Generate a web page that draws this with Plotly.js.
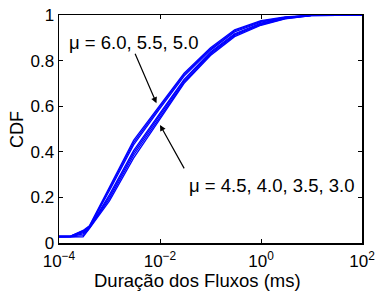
<!DOCTYPE html>
<html>
<head>
<meta charset="utf-8">
<script src="https://cdn.plot.ly/plotly-3.0.1.min.js"></script>
<style>html,body{margin:0;padding:0;background:#fff;}#chart{width:375px;height:293px;}</style>
</head>
<body>
<div id="chart"></div>
<script>
// Flow duration (ms) sample points
const durations = [1e-4, 1.7e-4, 3e-4, 4e-4, 1e-3, 3e-3, 1e-2, 3e-2, 0.1, 0.3, 1, 3, 10, 100];
// CDF series, one per mu value
const cdfMu60 = [0.030, 0.030, 0.055, 0.075, 0.245, 0.450, 0.605, 0.745, 0.856, 0.935, 0.975, 0.992, 0.999, 1];
const cdfMu55 = [0.030, 0.030, 0.053, 0.072, 0.238, 0.440, 0.598, 0.739, 0.851, 0.931, 0.972, 0.990, 0.999, 1];
const cdfMu50 = [0.029, 0.030, 0.050, 0.070, 0.230, 0.430, 0.590, 0.732, 0.846, 0.926, 0.969, 0.989, 0.998, 1];
const cdfMu45 = [0.028, 0.028, 0.045, 0.068, 0.212, 0.405, 0.570, 0.718, 0.838, 0.918, 0.964, 0.987, 0.998, 1];
const cdfMu40 = [0.027, 0.028, 0.040, 0.066, 0.204, 0.395, 0.562, 0.712, 0.833, 0.914, 0.961, 0.986, 0.998, 1];
const cdfMu35 = [0.027, 0.027, 0.032, 0.065, 0.195, 0.385, 0.552, 0.705, 0.828, 0.910, 0.958, 0.984, 0.997, 1];
const cdfMu30 = [0.026, 0.026, 0.027, 0.063, 0.185, 0.372, 0.542, 0.700, 0.822, 0.905, 0.955, 0.983, 0.997, 1];
const seriesList = [cdfMu60, cdfMu55, cdfMu50, cdfMu45, cdfMu40, cdfMu35, cdfMu30];
const xTickVals = [1e-4, 1e-2, 1, 100];
const xTickText = ['10<sup>−4</sup>', '10<sup>−2</sup>', '10<sup>0</sup>', '10<sup>2</sup>'];
const yTickVals = [0, 0.2, 0.4, 0.6, 0.8, 1];
const yTickText = ['0', '0.2', '0.4', '0.6', '0.8', '1'];
const labelUpper = 'μ = 6.0, 5.5, 5.0';
const labelLower = 'μ = 4.5, 4.0, 3.5, 3.0';
const xTitle = 'Duração dos Fluxos (ms)';
const yTitle = 'CDF';

const fontFam = 'Liberation Sans, Arial, Helvetica, sans-serif';
const FS = 17;
const FS_TEXT = 18.5;
const traces = seriesList.map(s => ({
  x: durations, y: s, type: 'scatter', mode: 'lines',
  line: {color: '#0000ff', width: 1.3}, showlegend: false, hoverinfo: 'skip'
}));

const axisCommon = {
  showline: true, linecolor: '#000', linewidth: 1.5, mirror: 'ticks',
  ticks: 'inside', ticklen: 4, tickwidth: 1, tickcolor: '#000',
  showgrid: false, zeroline: false, ticklabeloverflow: 'allow',
  tickfont: {family: fontFam, size: FS, color: '#000'}
};

const layout = {
  width: 375, height: 293,
  margin: {l: 59, r: 13, t: 15, b: 50},
  paper_bgcolor: '#fff', plot_bgcolor: '#fff',
  font: {family: fontFam, size: FS, color: '#000'},
  xaxis: Object.assign({}, axisCommon, {
    type: 'log', range: [-4, 2], tickmode: 'array', tickvals: xTickVals, ticktext: xTickText,
    ticklabelstandoff: 2
  }),
  yaxis: Object.assign({}, axisCommon, {
    range: [0, 1], tickmode: 'array', tickvals: yTickVals, ticktext: yTickText
  }),
  annotations: [
    {xref: 'x', yref: 'y', x: -2.07, y: 0.613, text: '', showarrow: true,
     arrowhead: 2, arrowsize: 1, arrowwidth: 1.2, arrowcolor: '#000', ax: -22, ay: -51},
    {xref: 'x', yref: 'y', x: -2.0, y: 0.518, text: '', showarrow: true,
     arrowhead: 2, arrowsize: 1, arrowwidth: 1.2, arrowcolor: '#000', ax: 25, ay: 45},
    {xref: 'paper', yref: 'paper', x: (133 - 59) / 303, y: (243 - 42) / 228,
     xanchor: 'center', yanchor: 'middle', text: labelUpper, showarrow: false,
     font: {family: fontFam, size: FS_TEXT, color: '#000'}},
    {xref: 'paper', yref: 'paper', x: (271 - 59) / 303, y: (243 - 185) / 228,
     xanchor: 'center', yanchor: 'middle', text: labelLower, showarrow: false,
     font: {family: fontFam, size: FS_TEXT, color: '#000'}},
    {xref: 'paper', yref: 'paper', x: (197 - 59) / 303, y: (243 - 280) / 228,
     xanchor: 'center', yanchor: 'middle', text: xTitle, showarrow: false,
     font: {family: fontFam, size: FS_TEXT, color: '#000'}},
    {xref: 'paper', yref: 'paper', x: (17 - 59) / 303, y: 0.5, textangle: -90,
     xanchor: 'center', yanchor: 'middle', text: yTitle, showarrow: false,
     font: {family: fontFam, size: 18, color: '#000'}}
  ]
};

Plotly.newPlot('chart', traces, layout, {staticPlot: true, displayModeBar: false});
</script>
</body>
</html>
